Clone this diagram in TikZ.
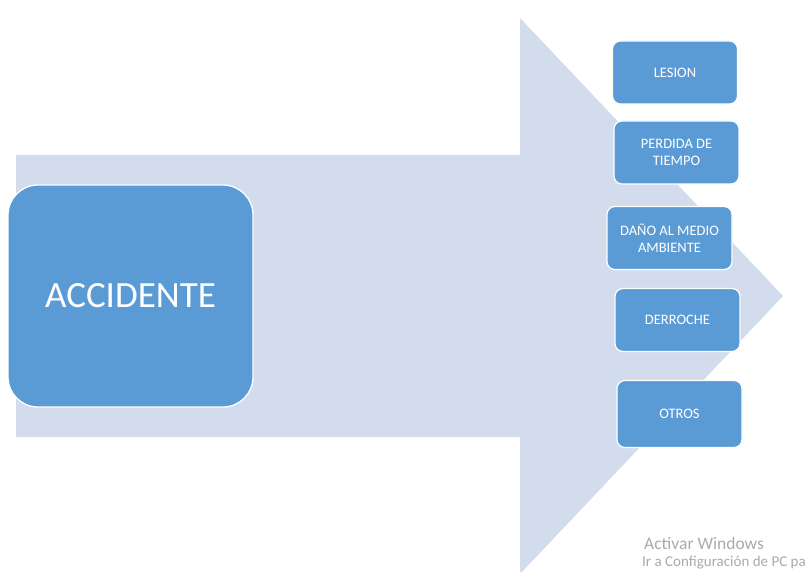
\documentclass[tikz,border=0pt]{standalone}
\usepackage{fontspec}
\setmainfont{Carlito}
\usepackage{tikz}
\usetikzlibrary{positioning}
\definecolor{ArrowFill}{RGB}{210,220,237}
\definecolor{BoxBlue}{RGB}{91,155,213}
\definecolor{WinGray}{RGB}{170,170,170}
\tikzset{
  mainbox/.style={draw=white,line width=1.3pt,rounded corners=30pt,fill=BoxBlue,minimum width=245pt,minimum height=222pt,text=white,font=\fontsize{37}{40}\selectfont},
  effect/.style={draw=white,line width=1.2pt,rounded corners=8pt,fill=BoxBlue,minimum width=125pt,minimum height=63pt,text=white,align=center,font=\fontsize{14.5}{17}\selectfont},
  wintext/.style={text=WinGray,anchor=base west,inner sep=0pt}
}

\begin{document}
\begin{tikzpicture}[x=1pt,y=-1pt]
\useasboundingbox (0,0) rectangle (805,572);
\clip (0,0) rectangle (805,572);

% big block arrow behind everything
\fill[ArrowFill] (16,155) -- (520,155) -- (520,18) -- (783,296) -- (520,574) -- (520,437) -- (16,437) -- cycle;

\node[mainbox] (accidente) at (130.5,296) {ACCIDENTE};

\node[effect] (lesion) at (675,72.5) {LESION};
\node[effect] (perdida) at (676.5,152.5) {PERDIDA DE\\TIEMPO};
\node[effect] (dano) at (669.5,238) {DAÑO AL MEDIO\\AMBIENTE};
\node[effect] (derroche) at (677.5,320) {DERROCHE};
\node[effect,minimum height=67pt] (otros) at (679.5,414) {OTROS};

\node[wintext,font=\fontsize{17.5}{18}\selectfont] (activar) at (644,549) {Activar Windows};
\node[wintext,font=\fontsize{15}{16}\selectfont] (config) at (642,566) {Ir a Configuración de PC pa};
\end{tikzpicture}
\end{document}
